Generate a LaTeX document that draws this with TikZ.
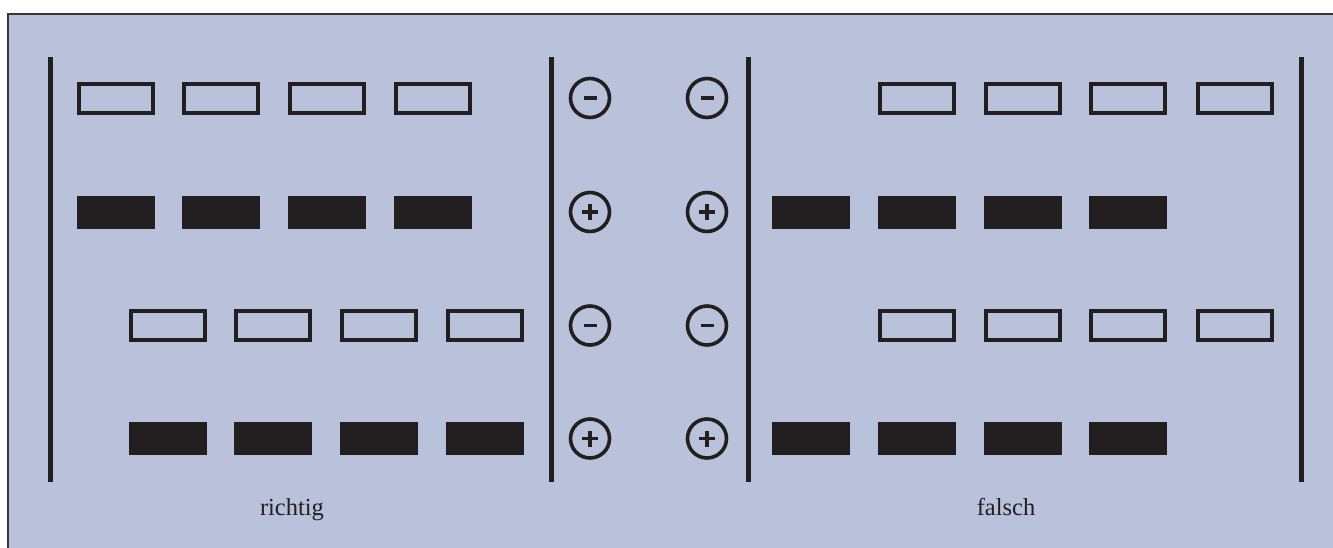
\documentclass[tikz,border=0pt]{standalone}
\usepackage{fontspec}
\setmainfont{Liberation Serif}
\definecolor{bg}{RGB}{185,194,218}
\definecolor{ink}{RGB}{35,31,32}
\begin{document}
\begin{tikzpicture}[x=1pt,y=-1pt,
  openbox/.style={draw=ink,line width=4pt,minimum width=74pt,minimum height=29pt,inner sep=0pt},
  fullbox/.style={fill=ink,draw=none,minimum width=78pt,minimum height=33pt,inner sep=0pt},
  pole/.style={draw=ink,line width=3.6pt,circle,minimum size=39pt,inner sep=0pt},
  bar/.style={draw=ink,line width=5pt},
  sign/.style={draw=ink,line width=3.5pt},
  lbl/.style={text=ink,font=\fontsize{24.5}{29}\selectfont,anchor=base}]
\useasboundingbox (0,0) rectangle (1333,547);
\fill[bg,draw=ink!90,line width=2pt] (8,13.5) rectangle (1345,560);
% vertical bars
\foreach \n/\x in {a/50,b/551,c/748,d/1301}{
  \coordinate (\n top) at (\x,57);
  \coordinate (\n bot) at (\x,482);
  \draw[bar] (\n top) -- (\n bot);
}
% left side
\foreach \i/\x in {1/116,2/221,3/327,4/432.5}{
  \node[openbox] (L1\i) at (\x,98) {};
  \node[fullbox] (L2\i) at (\x,212) {};
}
\foreach \i/\x in {1/168,2/273,3/379,4/485}{
  \node[openbox] (L3\i) at (\x,325.5) {};
  \node[fullbox] (L4\i) at (\x,438.5) {};
}
% right side
\foreach \i/\x in {1/917,2/1022.5,3/1128,4/1235}{
  \node[openbox] (R1\i) at (\x,98) {};
  \node[openbox] (R3\i) at (\x,325.5) {};
}
\foreach \i/\x in {1/811,2/917,3/1022.5,4/1128}{
  \node[fullbox] (R2\i) at (\x,212) {};
  \node[fullbox] (R4\i) at (\x,438.5) {};
}
% poles
\foreach \c/\x in {l/590,r/707}{
  \foreach \r/\y in {1/98,3/325.5}{
    \node[pole] (P\c\r) at (\x,\y) {};
    \draw[sign] ([xshift=-6.5pt]P\c\r.center) -- ([xshift=6.5pt]P\c\r.center);
  }
  \foreach \r/\y in {2/212,4/438.5}{
    \node[pole] (P\c\r) at (\x,\y) {};
    \draw[sign] ([xshift=-8pt]P\c\r.center) -- ([xshift=8pt]P\c\r.center);
    \draw[sign] ([yshift=-8pt]P\c\r.center) -- ([yshift=8pt]P\c\r.center);
  }
}
\node[lbl] (richtig) at (292,515) {richtig};
\node[lbl] (falsch) at (1006,515) {falsch};
\end{tikzpicture}
\end{document}
